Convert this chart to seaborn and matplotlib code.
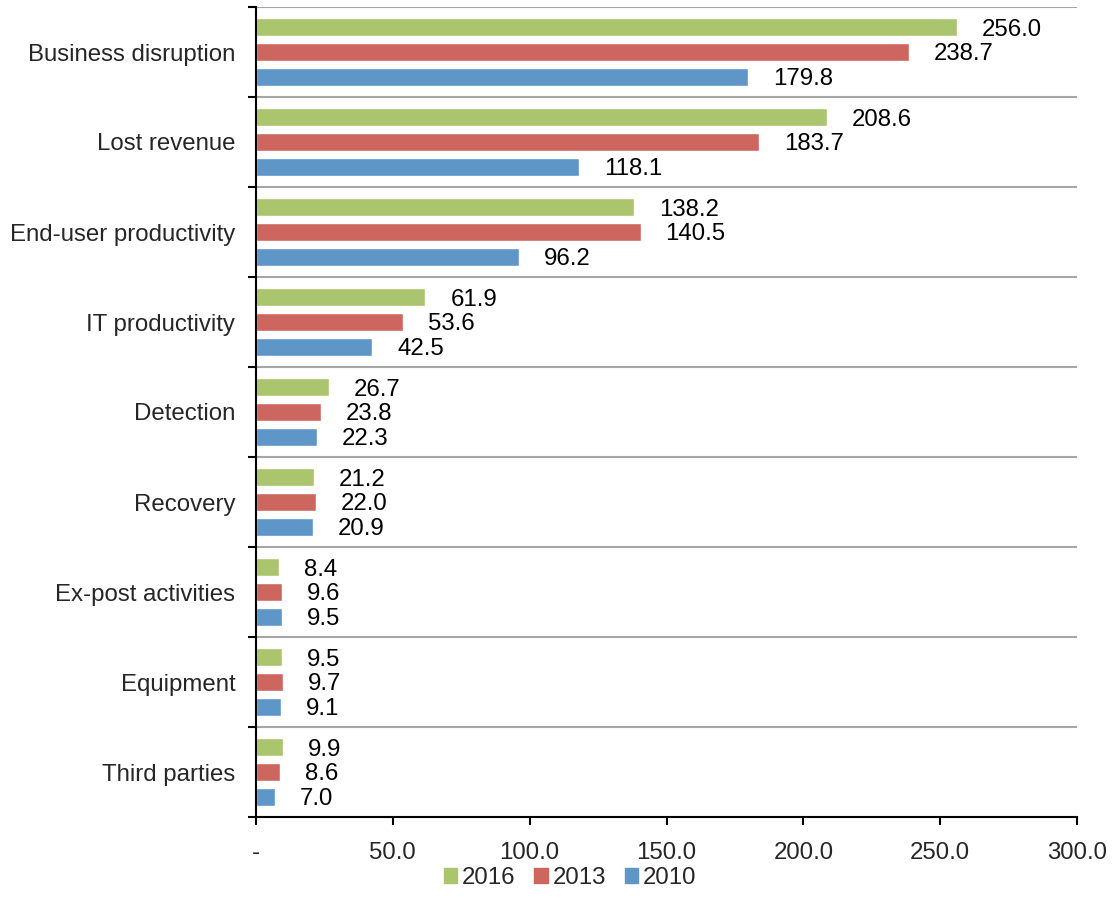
import matplotlib
matplotlib.use("Agg")
import matplotlib.pyplot as plt
import seaborn as sns
import pandas as pd
import numpy as np
from matplotlib.ticker import FixedLocator

categories = ["Business disruption", "Lost revenue", "End-user productivity",
              "IT productivity", "Detection", "Recovery", "Ex-post activities",
              "Equipment", "Third parties"]
years = ["2016", "2013", "2010"]
v2016 = [256.0, 208.6, 138.2, 61.9, 26.7, 21.2, 8.4, 9.5, 9.9]
v2013 = [238.7, 183.7, 140.5, 53.6, 23.8, 22.0, 9.6, 9.7, 8.6]
v2010 = [179.8, 118.1, 96.2, 42.5, 22.3, 20.9, 9.5, 9.1, 7.0]
xticks = [0, 50, 100, 150, 200, 250, 300]
xticklabels = ["-", "50.0", "100.0", "150.0", "200.0", "250.0", "300.0"]
colors = ["#ABC46E", "#CE6660", "#5E96C8"]

rows = []
for y, vals in zip(years, [v2016, v2013, v2010]):
    for c, v in zip(categories, vals):
        rows.append({"category": c, "year": y, "value": v})
df = pd.DataFrame(rows)

sns.set_theme(style="white")
plt.rcParams['font.family'] = ['Liberation Sans', 'DejaVu Sans']
FS = 17.3

fig = plt.figure(figsize=(11.12, 9.19), dpi=100)
ax = fig.add_axes([256/1112, 1-817/919, (1077-256)/1112, (817-7)/919])

sns.barplot(data=df, y="category", x="value", hue="year", order=categories,
            hue_order=years, palette=colors, orient="h", width=0.82, gap=0.27,
            ax=ax, saturation=1, errorbar=None, legend=True)

for cont in ax.containers:
    anns = ax.bar_label(cont, fmt="%.1f", padding=18, fontsize=FS, color="black")
    for t in anns:
        t.set_va("center_baseline")

ax.set_xlim(0, 300)
ax.set_ylim(8.5, -0.5)
ax.set_xlabel("")
ax.set_ylabel("")
ax.xaxis.set_major_locator(FixedLocator(xticks))
ax.set_xticklabels(xticklabels, fontsize=FS)
ax.tick_params(axis="x", direction="out", length=6, width=1.5, color="black",
               pad=12, bottom=True)
ax.tick_params(axis="y", which="major", length=0, labelsize=FS, pad=15)
ax.set_yticks(np.arange(-0.5, 9.0, 1.0), minor=True)
ax.tick_params(axis="y", which="minor", direction="out", length=6, width=1.5,
               color="black", left=True)
ax.grid(False)
ax.yaxis.grid(True, which="minor", color="#A6A6A6", linewidth=1.5)
ax.set_axisbelow(True)
for s in ["top", "right"]:
    ax.spines[s].set_visible(False)
for s in ["left", "bottom"]:
    ax.spines[s].set_color("black")
    ax.spines[s].set_linewidth(1.5)

ax.legend_.remove()
handles = [plt.Rectangle((0, 0), 1, 1, color=c) for c in colors]
fig.legend(handles, years, loc="center", bbox_to_anchor=(570/1112, 1-878/919),
           ncol=3, frameon=False, fontsize=FS, handlelength=0.55,
           handleheight=0.55, handletextpad=0.2, columnspacing=0.8)

fig.savefig("out.png", dpi=100)
